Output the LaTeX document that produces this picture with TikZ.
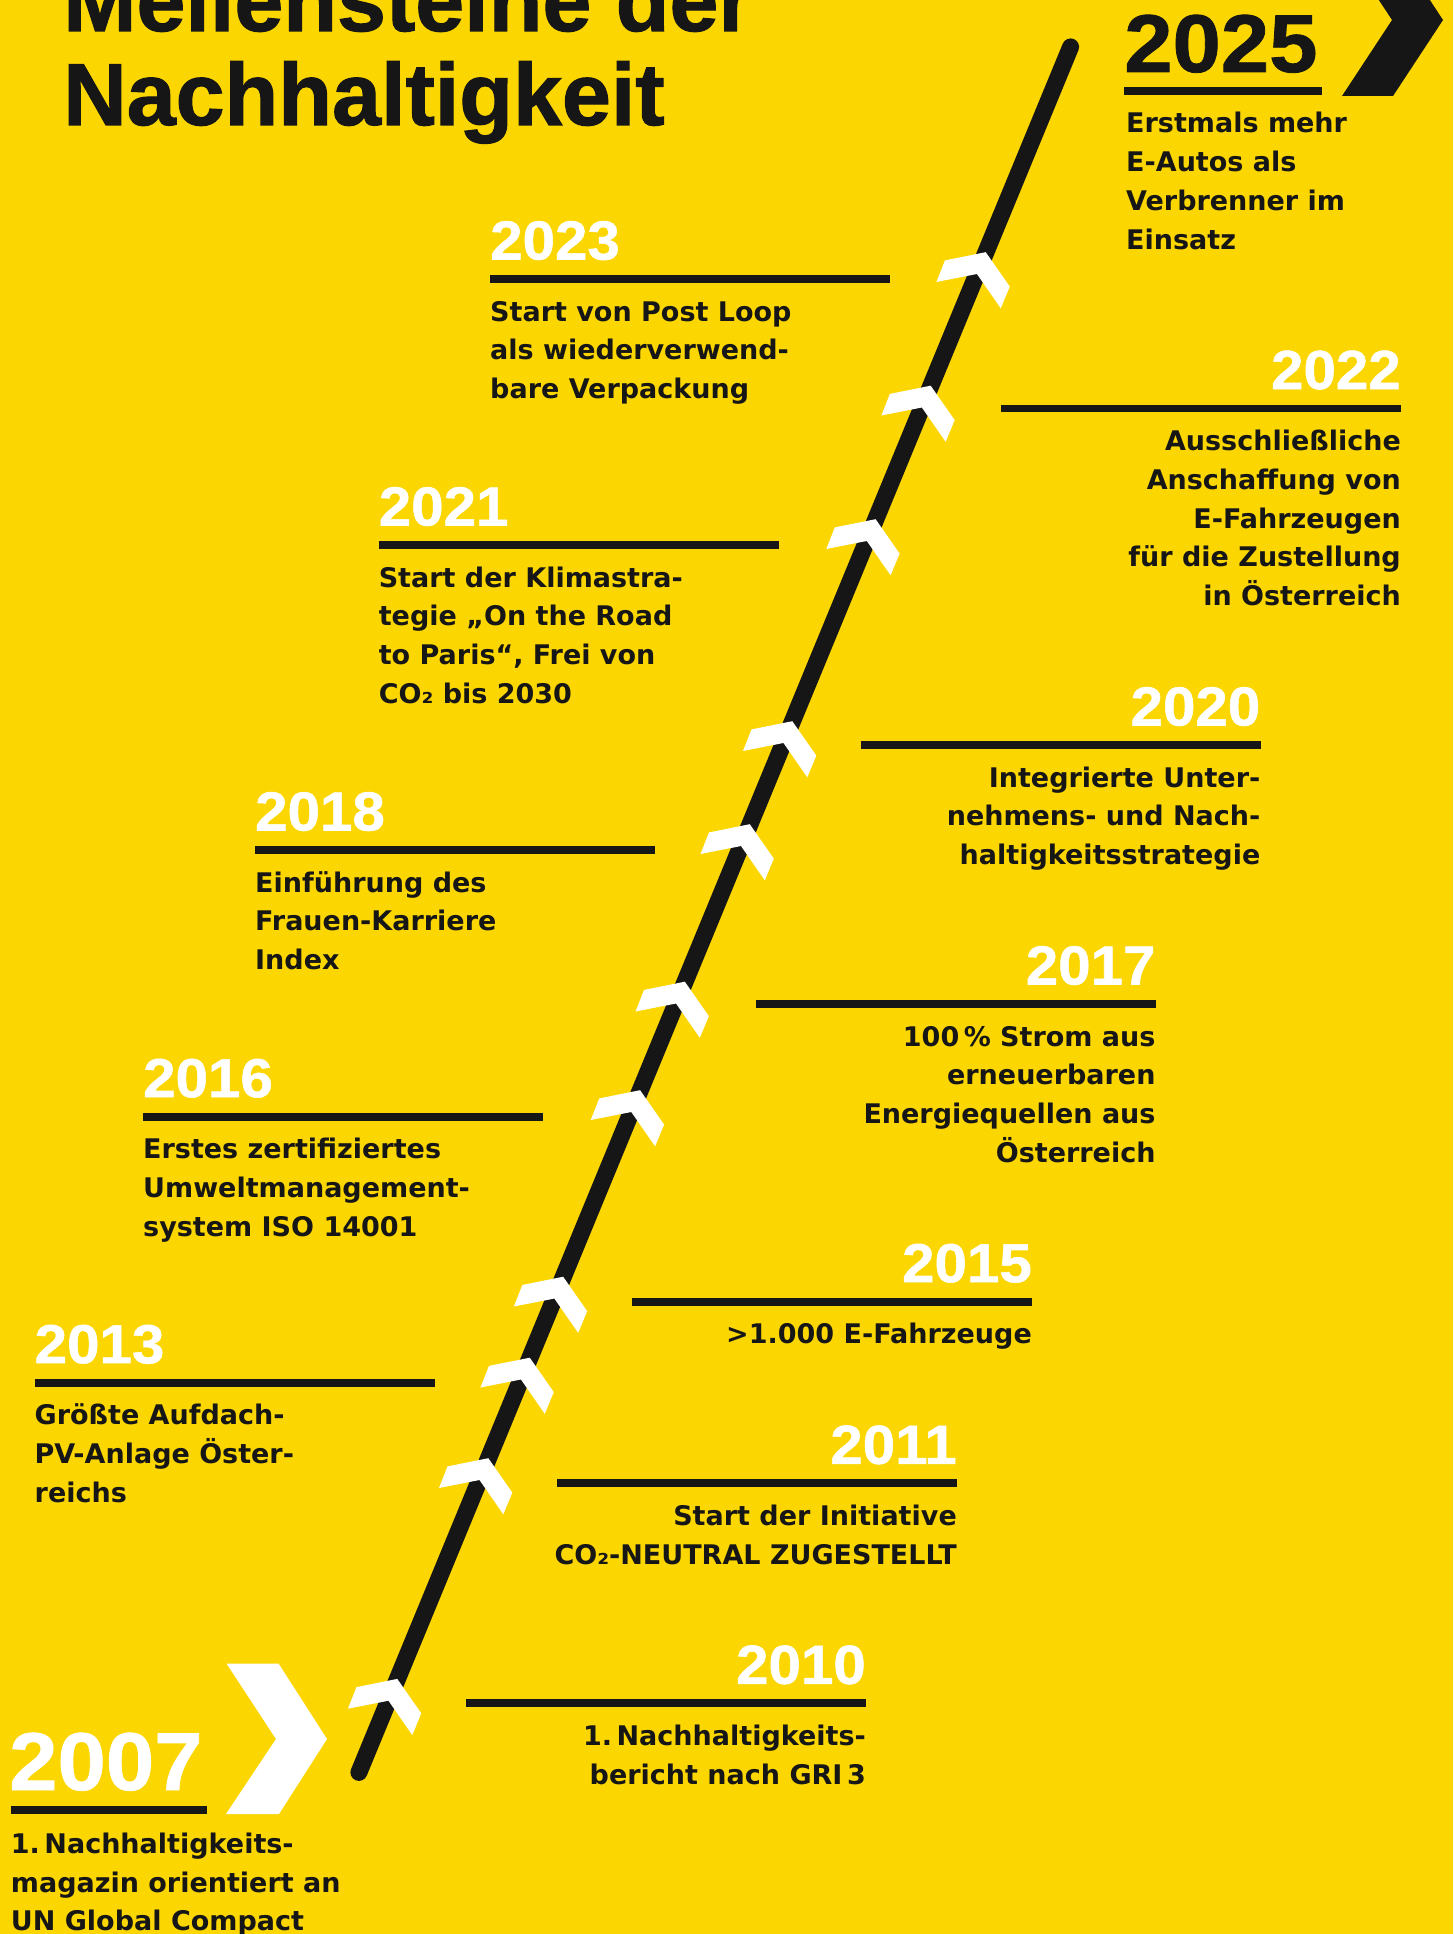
\documentclass[tikz,border=0pt]{standalone}
\usepackage{fontspec}
\usetikzlibrary{calc}

\newfontfamily\bodyfont{DejaVu Sans}
\newfontfamily\headfont{Liberation Sans}[FakeBold=1.2]
\newfontfamily\yearfont{Liberation Sans}[FakeStretch=1.06,FakeBold=1]

\definecolor{postyellow}{RGB}{251,214,0}
\definecolor{ink}{RGB}{22,22,22}

\newcommand\lead{38.8}

\tikzset{
  body/.style={font=\bodyfont\bfseries\fontsize{27}{38.8}\selectfont, text=ink, inner sep=0pt},
  yearsmall/.style={font=\yearfont\bfseries\fontsize{55}{55}\selectfont, text=white, inner sep=0pt},
  yearbig/.style={font=\yearfont\bfseries\fontsize{82}{82}\selectfont, inner sep=0pt},
  headline/.style={font=\headfont\bfseries\fontsize{88}{94}\selectfont, text=ink, inner sep=0pt},
  rulebar/.style={draw=ink, line width=7.7pt},
  track/.style={draw=ink, line width=17pt, line cap=round},
  pics/marker/.style={code={
    \fill[white] (-40.5,8) -- (-32,-13.6) -- (8.8,-21.8) -- (32.8,12.6) -- (23.8,34.3) -- (0,0) -- cycle;
  }}
}

% milestone left-aligned at its rule start: year, x, rule y, number of lines, text
% (a multi-line node sits on the baseline of its last line)
\newcommand\stoneleft[5]{%
  \node[yearsmall, anchor=base west] (y#1) at (#2,#3-19.5) {#1};
  \coordinate (r#1a) at (#2,#3);
  \coordinate (r#1b) at (#2+400,#3);
  \draw[rulebar] (r#1a) -- (r#1b);
  \node[body, anchor=base west, align=left] (t#1) at (#2,#3+42+#4*\lead-\lead) {#5};
}
% milestone right-aligned to its rule end
\newcommand\stoneright[5]{%
  \node[yearsmall, anchor=base east] (y#1) at (#2,#3-19.5) {#1};
  \coordinate (r#1a) at (#2-400,#3);
  \coordinate (r#1b) at (#2,#3);
  \draw[rulebar] (r#1a) -- (r#1b);
  \node[body, anchor=base east, align=right] (t#1) at (#2,#3+42+#4*\lead-\lead) {#5};
}

\begin{document}
\begin{tikzpicture}[x=1pt,y=-1pt]
\useasboundingbox (0,0) rectangle (1453,1934);
\clip (0,0) rectangle (1453,1934);
\fill[postyellow] (0,0) rectangle (1453,1934);

% title
\node[headline, anchor=base west, align=left] (title) at (63,125) {Meilensteine der\\Nachhaltigkeit};

% the diagonal time track
\coordinate (ltop) at (1070.6,46.9);
\coordinate (lbot) at (358.9,1772.4);
\draw[track] (lbot) -- (ltop);

% markers along the track
\foreach \yy in {274,407.5,541,743,846,1003.5,1112,1298.5,1379.5,1480,1700.7}
  \pic at ($(ltop)!{(\yy-46.9)/1725.5}!(lbot)$) {marker};

% big arrows
\fill[ink] (1342,-56) -- (1393,-56) -- (1443,20) -- (1393,96) -- (1342,96) -- (1392,20) -- cycle;
\fill[white] (226.5,1663.5) -- (278.5,1663.5) -- (327,1739) -- (279,1814) -- (226,1814) -- (276,1739) -- cycle;

% 2025
\node[yearbig, text=ink, anchor=base west] (y2025) at (1124,72) {2025};
\coordinate (r2025a) at (1124,91);
\coordinate (r2025b) at (1322,91);
\draw[rulebar] (r2025a) -- (r2025b);
\node[body, anchor=base west, align=left] (t2025) at (1126,132.7+3*\lead)
  {Erstmals mehr\\E-Autos als\\Verbrenner im\\Einsatz};

\stoneleft{2023}{490}{279}{3}{Start von Post Loop\\als wiederverwend-\\bare Verpackung}
\stoneright{2022}{1401}{408.5}{5}{Ausschließliche\\Anschaffung von\\E-Fahrzeugen\\für die Zustellung\\in Österreich}
\stoneleft{2021}{378.6}{545}{4}{Start der Klimastra-\\tegie „On the Road\\to Paris“, Frei von\\CO₂ bis 2030}
\stoneright{2020}{1260.5}{745}{3}{Integrierte Unter-\\nehmens- und Nach-\\haltigkeitsstrategie}
\stoneleft{2018}{255}{850}{3}{Einführung des\\Frauen-Karriere\\Index}
\stoneright{2017}{1155.7}{1004}{4}{100\,\% Strom aus\\erneuerbaren\\Energiequellen aus\\Österreich}
\stoneleft{2016}{143}{1116.7}{3}{Erstes zertifiziertes\\Umweltmanagement-\\system ISO 14001}
\stoneright{2015}{1032}{1301.7}{1}{>1.000 E-Fahrzeuge}
\stoneleft{2013}{34.5}{1382.7}{3}{Größte Aufdach-\\PV-Anlage Öster-\\reichs}
\stoneright{2011}{957}{1483.3}{2}{Start der Initiative\\CO₂-NEUTRAL ZUGESTELLT}
\stoneright{2010}{866}{1703.3}{2}{1.\,Nachhaltigkeits-\\bericht nach GRI\,3}

% 2007
\node[yearbig, text=white, anchor=base west] (y2007) at (9,1790) {2007};
\coordinate (r2007a) at (10.7,1810);
\coordinate (r2007b) at (206.7,1810);
\draw[rulebar] (r2007a) -- (r2007b);
\node[body, anchor=base west, align=left] (t2007) at (10.7,1853.3+2*\lead)
  {1.\,Nachhaltigkeits-\\magazin orientiert an\\UN Global Compact};
\end{tikzpicture}
\end{document}
